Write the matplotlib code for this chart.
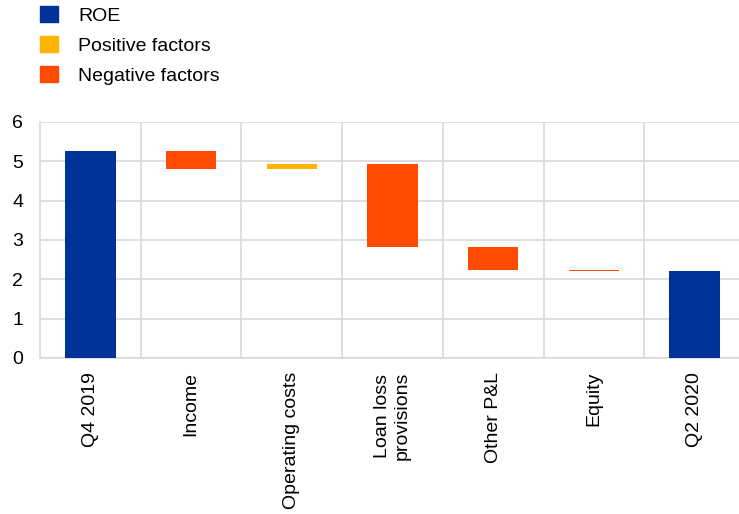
import matplotlib.pyplot as plt
from matplotlib.patches import Patch

plt.rcParams['font.family'] = ['Liberation Sans', 'DejaVu Sans']

categories = ['Q4 2019', 'Income', 'Operating costs', 'Loan loss\nprovisions',
              'Other P&L', 'Equity', 'Q2 2020']
# start/end levels are ROE, the middle entries are contributions (pp)
roe_start = 5.27
contributions = [-0.47, 0.13, -2.11, -0.59, -0.02]
roe_end = 2.20

blue = '#003299'
yellow = '#FFB400'
orange = '#FF4B00'
grid_col = '#d9d9d9'

fig = plt.figure(figsize=(7.39, 5.14), dpi=100)
ax = fig.add_axes([40 / 739, 1 - 358 / 514, 699 / 739, (358 - 122) / 514])

width = 0.5
ax.bar(0, roe_start, width, color=blue, zorder=3)
level = roe_start
for i, c in enumerate(contributions, start=1):
    col = yellow if c > 0 else orange
    bottom = level if c > 0 else level + c
    ax.bar(i, abs(c), width, bottom=bottom, color=col, zorder=3)
    level += c
ax.bar(len(categories) - 1, roe_end, width, color=blue, zorder=3)

ax.set_ylim(0, 6)
ax.set_xlim(-0.5, -0.5 + 699 / 100.7)
ax.set_yticks(range(0, 7))
ax.set_xticks(range(len(categories)))
ax.set_xticklabels(categories, rotation=90, va='top', ha='center',
                   multialignment='center', linespacing=1.15)
ax.tick_params(axis='both', length=0, labelsize=14, colors='black')
ax.tick_params(axis='y', pad=12)
ax.tick_params(axis='x', pad=10)

ax.yaxis.grid(True, color=grid_col, linewidth=1.2, zorder=0)
for b in range(1, len(categories)):
    ax.axvline(b - 0.5, color=grid_col, linewidth=1.2, zorder=0)

for side in ['top', 'right']:
    ax.spines[side].set_visible(False)
for side in ['left', 'bottom']:
    ax.spines[side].set_color(grid_col)
    ax.spines[side].set_linewidth(1.2)

handles = [Patch(color=blue, label='ROE'),
           Patch(color=yellow, label='Positive factors'),
           Patch(color=orange, label='Negative factors')]
fig.legend(handles=handles, loc='upper left', bbox_to_anchor=(0.031, 1.022),
           frameon=False, fontsize=14, handlelength=0.88, handleheight=0.88,
           handletextpad=1.05, labelspacing=0.58)

fig.savefig('out.png', dpi=100)
